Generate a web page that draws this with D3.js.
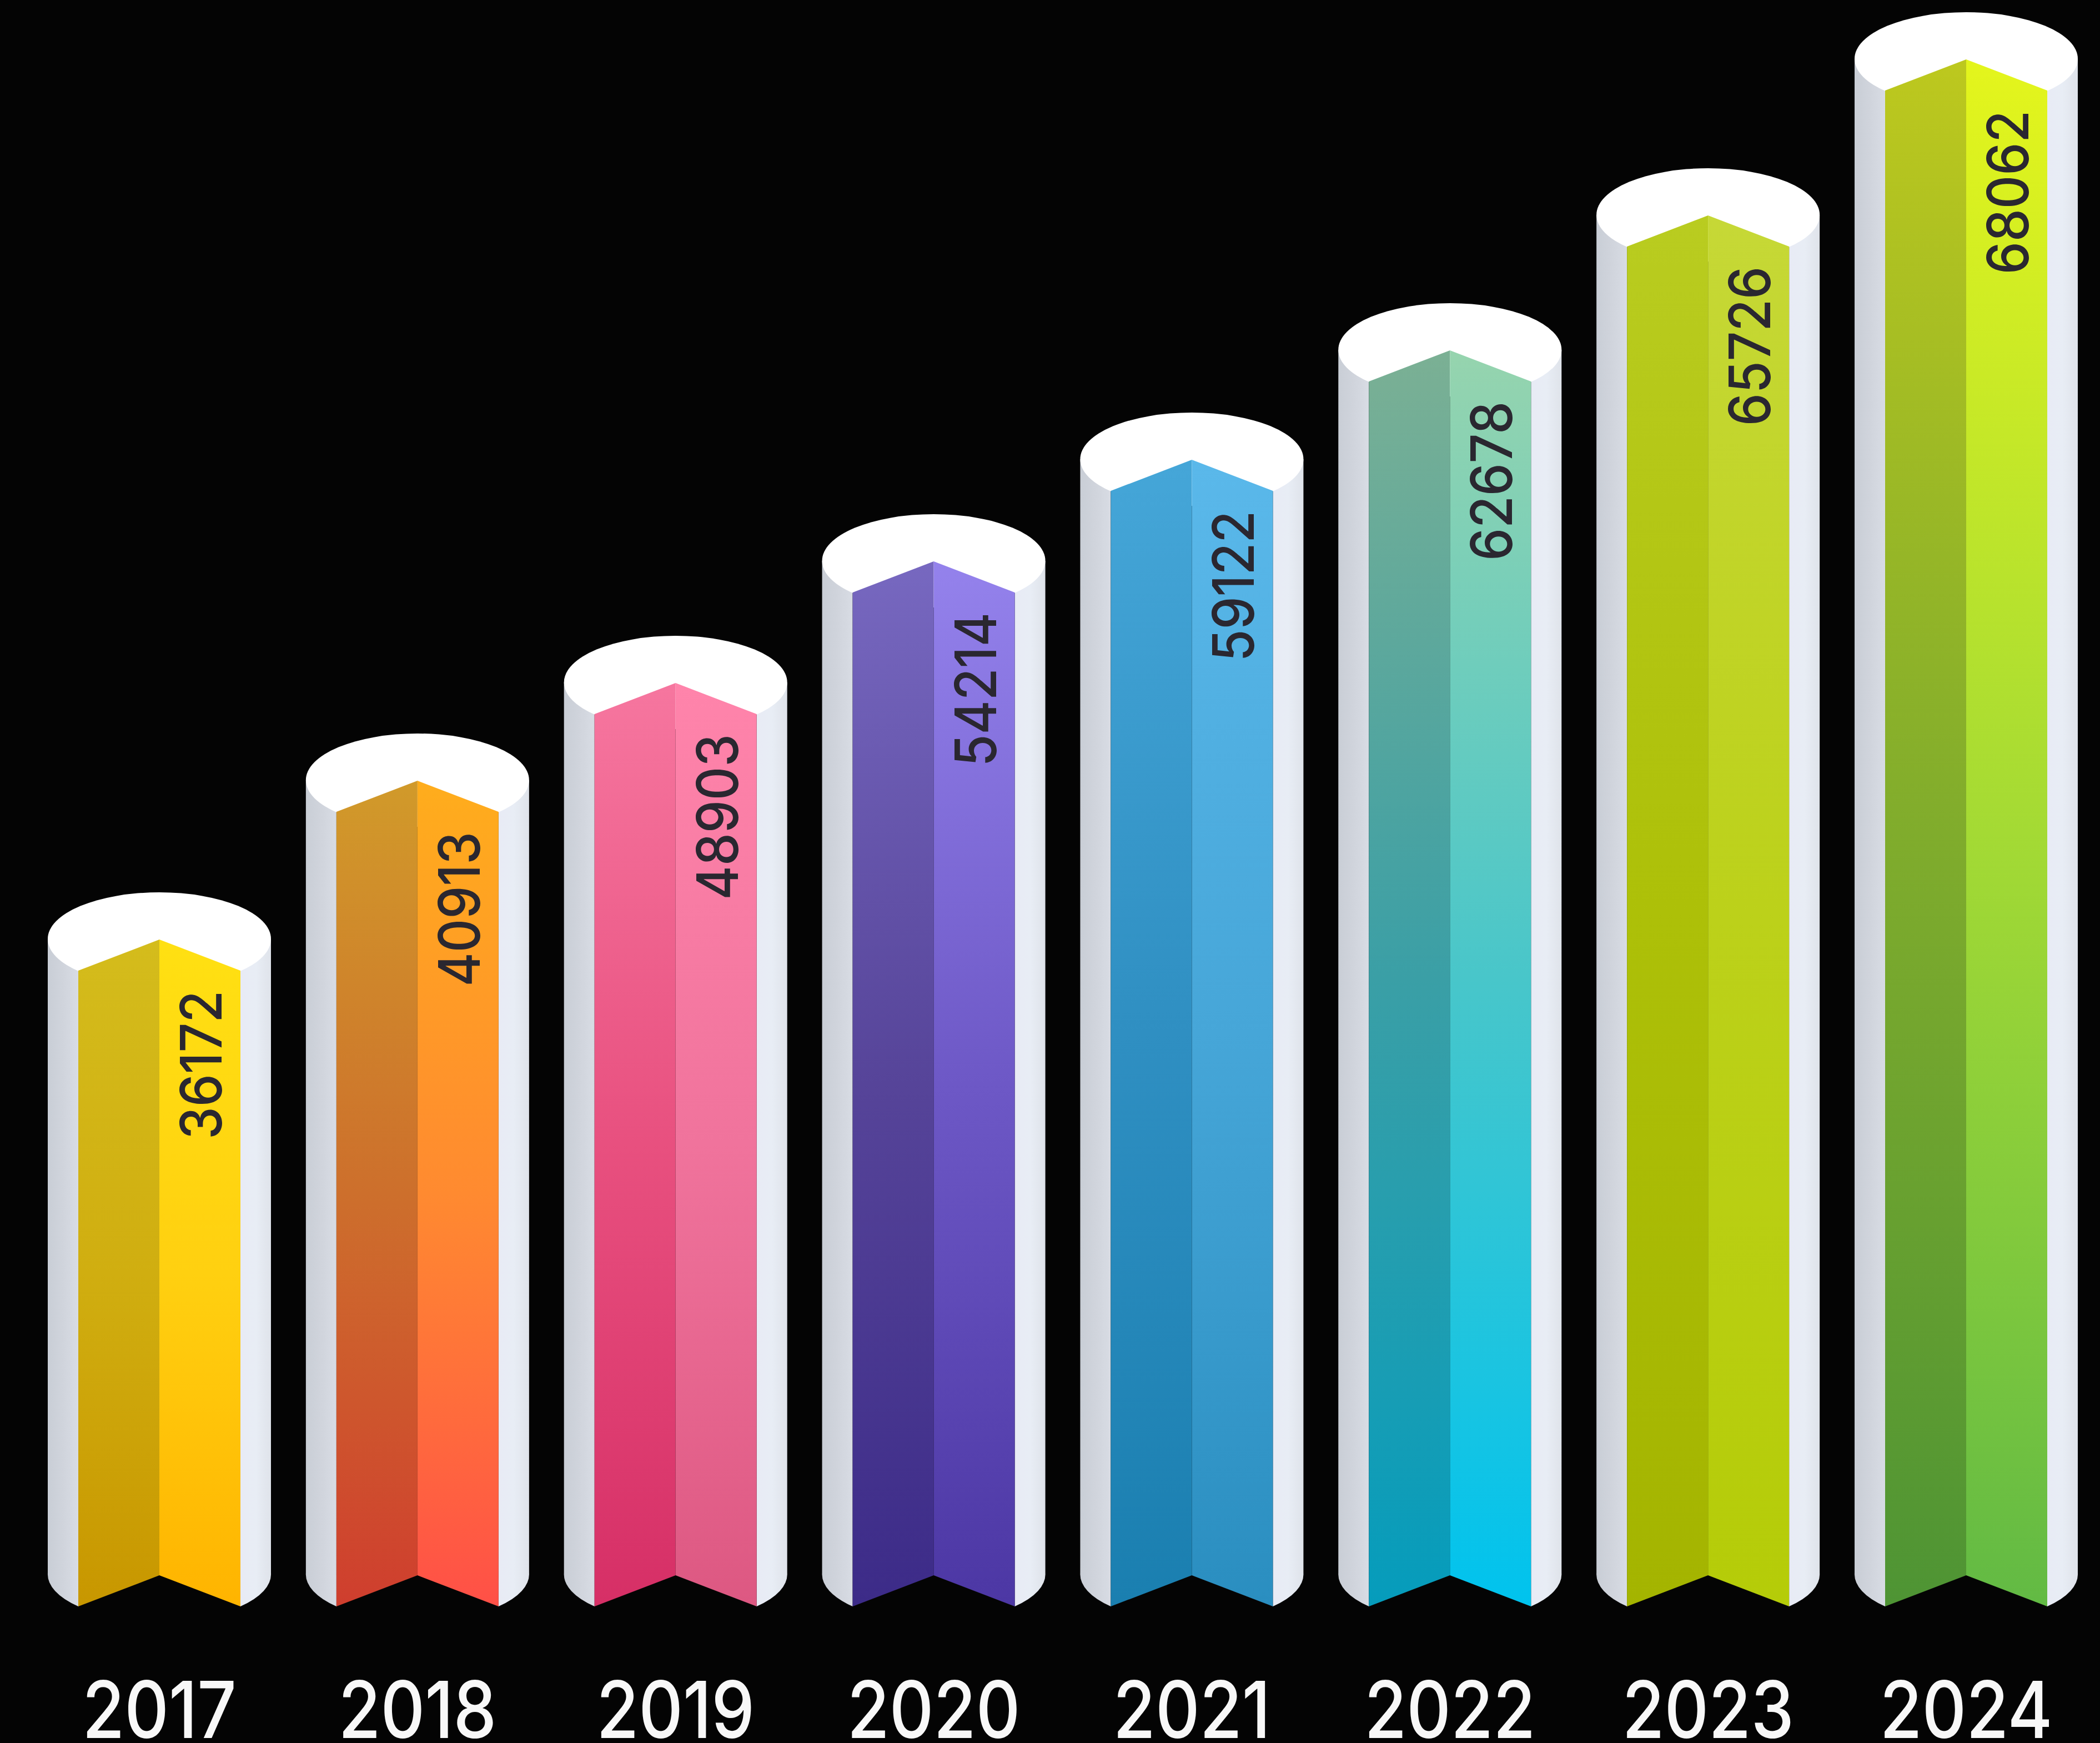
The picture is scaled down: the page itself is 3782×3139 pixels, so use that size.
<!DOCTYPE html>
<html>
<head>
<meta charset="utf-8">
<style>
  html, body { margin: 0; padding: 0; background: #040404; }
  svg { display: block; }
</style>
<script src="https://cdn.jsdelivr.net/npm/d3@7"></script>
</head>
<body>
<script>
const years = ["2017", "2018", "2019", "2020", "2021", "2022", "2023", "2024"];
const totals = [36172, 40913, 48903, 54214, 59122, 62678, 65726, 68062];

// Vertical gradient stops (top, middle, bottom) of the two front faces of each column.
const leftFaceStops = [
  ["#d4bc1c", "#d0ae10", "#c89700"],
  ["#d19a2a", "#cd6f2c", "#cf3e2e"],
  ["#f6769f", "#e8507f", "#d62f66"],
  ["#7768c0", "#564499", "#3c2b88"],
  ["#45a6d8", "#2f8fc2", "#1a7fb0"],
  ["#7bb094", "#3a9fa6", "#059cbc"],
  ["#b9cc20", "#adc008", "#a4b400"],
  ["#bdc81e", "#80ac2c", "#4e9434"]
];
const rightFaceStops = [
  ["#ffe012", "#ffd010", "#ffb400"],
  ["#ffad1c", "#ff8a30", "#ff5047"],
  ["#ff84ab", "#f0739c", "#dd5882"],
  ["#9482ec", "#6d58c6", "#4c37a4"],
  ["#5ab8ea", "#46a6d8", "#2a8ec0"],
  ["#96d4ae", "#48c6ca", "#00c3ee"],
  ["#c6d836", "#bcd11a", "#b5cc08"],
  ["#e4f51c", "#a4da34", "#62ba44"]
];

const width = 3782, height = 3139;

// Column spacing along the bottom of the chart.
const x = d3.scalePoint().domain(years).range([287, 3541]);

// The value axis is not uniform: column heights grow unevenly with the totals,
// so the scale runs piecewise through one stop for each total.
const ridgeY = d3.scaleLinear()
  .domain(totals)
  .range([1692, 1406, 1230, 1011, 828, 631, 388, 107]);

const ridgeBottom = 2837;     // lower end of the centre fold
const outerR = 201;           // half width of the white cylinder
const innerR = 146;           // half width of the folded coloured front
const ellipseRy = 84;         // vertical radius of the cylinder ends
const foldDrop = 56;          // how far the front corners sit below the fold
const capOffset = -1;         // cap centre relative to the fold top
const footY = 2833;           // where the cylinder walls begin to curve inward

const svg = d3.select("body").append("svg")
  .attr("width", width)
  .attr("height", height)
  .attr("viewBox", [0, 0, width, height]);

svg.append("rect").attr("width", width).attr("height", height).attr("fill", "#040404");

const defs = svg.append("defs");

function horizontalGradient(id, colours) {
  const g = defs.append("linearGradient").attr("id", id)
    .attr("x1", 0).attr("x2", 1).attr("y1", 0).attr("y2", 0);
  colours.forEach((c, i) => g.append("stop")
    .attr("offset", i / (colours.length - 1)).attr("stop-color", c));
}
horizontalGradient("wall-left", ["#c9ced6", "#d0d4dc", "#d8dce4"]);
horizontalGradient("wall-right", ["#e8ebf5", "#e8edf5", "#dfe3ea"]);

function faceGradient(id, colours, top) {
  const g = defs.append("linearGradient").attr("id", id)
    .attr("gradientUnits", "userSpaceOnUse")
    .attr("x1", 0).attr("x2", 0).attr("y1", top).attr("y2", ridgeBottom + foldDrop);
  colours.forEach((c, i) => g.append("stop")
    .attr("offset", i / (colours.length - 1)).attr("stop-color", c));
}

const polygon = d3.line();

const columns = svg.selectAll("g.column")
  .data(years.map((year, i) => ({ year, total: totals[i], i })))
  .join("g")
  .attr("class", "column");

columns.each(function (d) {
  const g = d3.select(this);
  const cx = x(d.year);
  const top = ridgeY(d.total);
  const capY = top + capOffset;
  const cornerY = ridgeBottom + foldDrop;

  faceGradient(`left-${d.year}`, leftFaceStops[d.i], top);
  faceGradient(`right-${d.year}`, rightFaceStops[d.i], top);

  // Cylinder walls, curving in to the front corners at the foot.
  g.append("path")
    .attr("fill", "url(#wall-left)")
    .attr("d", `M${cx - outerR},${capY}L${cx - outerR},${footY}` +
      `A${outerR},${ellipseRy} 0 0 0 ${cx - innerR},${cornerY}` +
      `L${cx - innerR},${capY}Z`);
  g.append("path")
    .attr("fill", "url(#wall-right)")
    .attr("d", `M${cx + outerR},${capY}L${cx + outerR},${footY}` +
      `A${outerR},${ellipseRy} 0 0 1 ${cx + innerR},${cornerY}` +
      `L${cx + innerR},${capY}Z`);

  // White top of the cylinder.
  g.append("ellipse")
    .attr("cx", cx).attr("cy", capY)
    .attr("rx", outerR).attr("ry", ellipseRy)
    .attr("fill", "#ffffff");

  // Folded coloured front.
  g.append("path")
    .attr("fill", `url(#left-${d.year})`)
    .attr("d", polygon([
      [cx - innerR, top + foldDrop], [cx, top],
      [cx, ridgeBottom], [cx - innerR, cornerY]
    ]) + "Z");
  g.append("path")
    .attr("fill", `url(#right-${d.year})`)
    .attr("d", polygon([
      [cx + innerR, top + foldDrop], [cx, top],
      [cx, ridgeBottom], [cx + innerR, cornerY]
    ]) + "Z");

  // Total, reading upward on the right-hand face.
  g.append("text")
    .attr("transform", `translate(${cx + 112},${top + 92}) rotate(-90) scale(0.91,1)`)
    .attr("text-anchor", "end")
    .attr("font-family", "Inter, Lato, sans-serif")
    .attr("font-size", 103)
    .attr("font-weight", 500)
    .attr("fill", "#2a2730")
    .text(d.total);

  // Year under the column.
  g.append("text")
    .attr("transform", `translate(${cx},3130) scale(0.87,1)`)
    .attr("text-anchor", "middle")
    .attr("font-family", "Inter, Lato, sans-serif")
    .attr("font-size", 142)
    .attr("font-weight", 500)
    .attr("fill", "#f8f8f8")
    .text(d.year);
});
</script>
</body>
</html>
